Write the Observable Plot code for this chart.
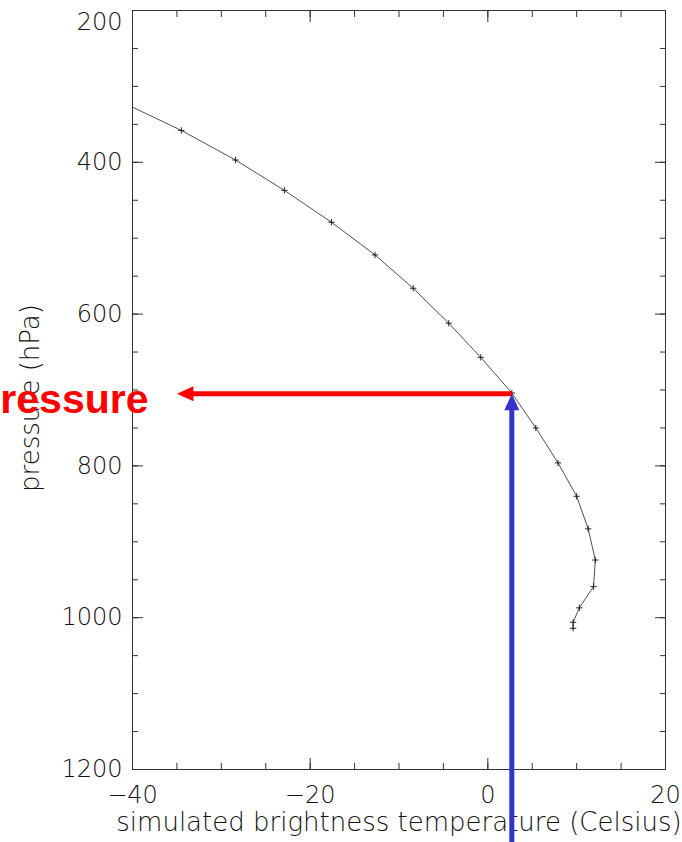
<!DOCTYPE html>
<html>
<head>
<meta charset="utf-8">
<script src="https://cdn.jsdelivr.net/npm/d3@7"></script>
<script src="https://cdn.jsdelivr.net/npm/@observablehq/plot@0.6"></script>
<style>
  html, body { margin: 0; padding: 0; background: #fff; overflow: hidden; }
  #chart svg { display: block; }
</style>
</head>
<body>
<div id="chart"></div>
<script>
// Simulated brightness temperature (°C) at each model pressure level (hPa).
// The first level lies just above the plotted range and is clipped by the frame.
const temperature = [-41.5, -34.5, -28.4, -22.9, -17.6, -12.7, -8.4, -4.4, -0.8, 2.7,
                     5.4, 7.9, 10.0, 11.3, 12.1, 11.9, 10.3, 9.6, 9.6];
const pressure    = [319, 358, 397, 437, 479, 522, 566, 612, 657, 704,
                     750, 796, 840, 883, 924, 959, 987, 1006, 1014];

// Observed brightness temperature, traced up to the curve and across to a pressure
const observedTemp      = 2.7;
const retrievedPressure = 705;
const observedFrom      = 1300;   // blue arrow starts below the axis
const pointerTemp       = -35;    // red arrow points out to here
const pointerLabel      = "Pressure";

// Axis ticks
const xMajor = [-40, -20, 0, 20];
const xMinor = d3.range(-40, 20.1, 5);
const yTop   = [200];
const yMajor = [400, 600, 800, 1000, 1200];
const yMinor = d3.range(200, 1200.1, 50);

const xTitle = "simulated brightness temperature (Celsius)";
const yTitle = "pressure (hPa)";

const profile = temperature.map((t, i) => ({t, p: pressure[i]}));
const pointer = [{t: observedTemp, p: retrievedPressure, from: observedFrom, tip: pointerTemp, label: pointerLabel}];

// Filled arrowheads with the tip at the symbol origin
const headUp = {draw(ctx) { ctx.moveTo(0, 0); ctx.lineTo(7.5, 16.5); ctx.lineTo(-7.5, 16.5); ctx.closePath(); }};
const headLeft = {draw(ctx) { ctx.moveTo(0, 0); ctx.lineTo(16.5, -7.5); ctx.lineTo(16.5, 7.5); ctx.closePath(); }};

const font = "'DejaVu Sans', sans-serif";
const textStyle = {fontFamily: font, fontSize: 24, fontWeight: 200, fill: "#111"};
const titleStyle = {fontFamily: font, fontSize: 26, fontWeight: 200, fill: "#111"};
const tickOnly = {stroke: "#333", strokeWidth: 1, tickFormat: () => "", label: null};
const plain = d3.format("d");
const red = "#ff0000";
const blue = "#3333cc";

const chart = Plot.plot({
  width: 682,
  height: 842,
  marginLeft: 132,
  marginRight: 17,
  marginTop: 10,
  marginBottom: 73,
  x: {domain: [-40, 20]},
  y: {domain: [200, 1200], reverse: true},
  style: {background: "white", fontFamily: font},
  marks: [
    Plot.frame({stroke: "#333", strokeWidth: 1}),

    // inward minor and major ticks on all four sides
    Plot.axisX({anchor: "bottom", ticks: xMinor, tickSize: -6, ...tickOnly}),
    Plot.axisX({anchor: "top", ticks: xMinor, tickSize: -6, ...tickOnly}),
    Plot.axisY({anchor: "left", ticks: yMinor, tickSize: -6, ...tickOnly}),
    Plot.axisY({anchor: "right", ticks: yMinor, tickSize: -6, ...tickOnly}),
    Plot.axisX({anchor: "bottom", ticks: xMajor, tickSize: -11, ...tickOnly}),
    Plot.axisX({anchor: "top", ticks: xMajor, tickSize: -11, ...tickOnly}),
    Plot.axisY({anchor: "left", ticks: [...yTop, ...yMajor], tickSize: -11, ...tickOnly}),
    Plot.axisY({anchor: "right", ticks: [...yTop, ...yMajor], tickSize: -11, ...tickOnly}),

    // tick labels (the top one sits just inside the plot's upper edge)
    Plot.axisX({anchor: "bottom", ticks: xMajor, tickSize: 0, tickPadding: 16, label: null, ...textStyle}),
    Plot.axisY({anchor: "left", ticks: yMajor, tickSize: 0, tickPadding: 10, tickFormat: plain, label: null, ...textStyle}),
    Plot.axisY({anchor: "left", ticks: yTop, tickSize: 0, tickPadding: 10, tickFormat: plain, label: null, dy: 12, ...textStyle}),

    // axis titles
    Plot.text([xTitle], {text: d => d, frameAnchor: "bottom", lineAnchor: "bottom", dy: 61, ...titleStyle}),
    Plot.text([yTitle], {text: d => d, frameAnchor: "left", textAnchor: "middle", rotate: -90, lineAnchor: "bottom",
      dx: -94, dy: 8, ...titleStyle}),

    // temperature profile
    Plot.line(profile, {x: "t", y: "p", stroke: "#222", strokeWidth: 0.8, clip: true}),
    Plot.dot(profile, {x: "t", y: "p", symbol: "plus", r: 2.2, stroke: "#111", strokeWidth: 0.9, clip: true}),

    // observed temperature (blue) up to the curve, then across to the pressure (red)
    Plot.arrow(pointer, {x1: "t", y1: "p", x2: "tip", y2: "p", insetEnd: 14, headLength: 0,
      stroke: red, strokeWidth: 5, strokeLinecap: "butt", bend: false}),
    Plot.dot(pointer, {x: "tip", y: "p", symbol: headLeft, fill: red, stroke: "none"}),
    Plot.arrow(pointer, {x1: "t", y1: "from", x2: "t", y2: "p", insetEnd: 14, headLength: 0,
      stroke: blue, strokeWidth: 5, strokeLinecap: "butt", bend: false}),
    Plot.dot(pointer, {x: "t", y: "p", symbol: headUp, fill: blue, stroke: "none"}),

    Plot.text(pointer, {y: "p", text: "label", frameAnchor: "left", textAnchor: "end", lineAnchor: "bottom",
      dx: 16, dy: 19, fontFamily: "'Liberation Sans', Arial, sans-serif", fontWeight: "bold", fontSize: 41, fill: red})
  ]
});

document.getElementById("chart").appendChild(chart);
</script>
</body>
</html>
